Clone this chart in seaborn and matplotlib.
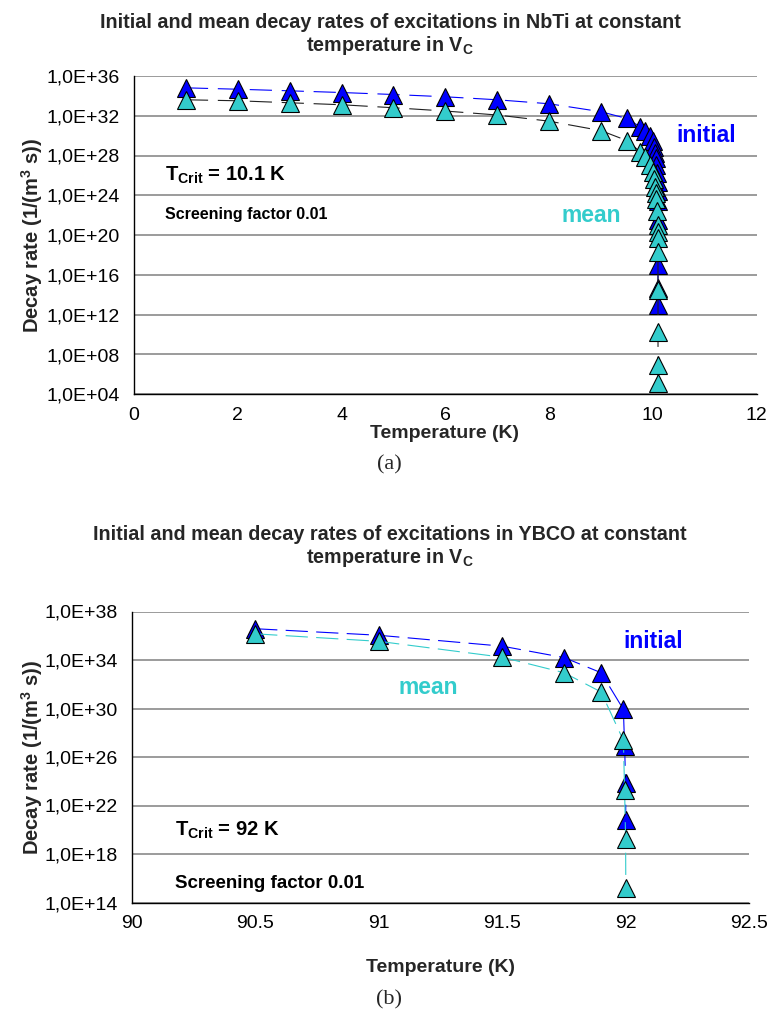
import numpy as np
import pandas as pd
import matplotlib
matplotlib.use("Agg")
import matplotlib.pyplot as plt
import seaborn as sns
from matplotlib.ticker import FixedLocator, FuncFormatter

# ---- NbTi (T_crit = 10.1 K): decay rates given as log10 of 1/(m^3 s) ----
nbti_temp = [1, 2, 3, 4, 5, 6, 7, 8, 9, 9.5, 9.75, 9.85, 9.95, 10.0,
             10.03, 10.05, 10.06, 10.07, 10.08, 10.09, 10.095, 10.098,
             10.099, 10.0995, 10.0999, 10.09999, 10.099999]
nbti_initial_log = [34.8, 34.66, 34.5, 34.33, 34.13, 33.9, 33.6, 33.2, 32.4,
                    31.72, 30.9, 30.5, 30.0, 29.5, 28.9, 28.3, 27.7, 27.0,
                    26.2, 25.3, 24.4, 23.4, 21.5, 17.0, 14.7, 13.0, np.nan]
nbti_mean_log = [33.6, 33.5, 33.3, 33.1, 32.8, 32.47, 32.07, 31.45, 30.5,
                 29.5, 28.4, 27.8, 27.0, 26.3, 25.6, 24.8, 24.2, 23.6,
                 22.4, 21.0, 20.3, 19.7, 18.3, 14.5, 10.3, 6.9, 5.1]

# ---- YBCO (T_crit = 92 K) ----
ybco_temp = [90.5, 91, 91.5, 91.75, 91.9, 91.99, 91.995, 91.999, 91.9999]
ybco_initial_log = [36.58, 36.04, 35.14, 34.2, 32.95, 29.93, 26.93, 23.84, 20.81]
ybco_mean_log = [36.16, 35.54, 34.23, 32.95, 31.36, 27.37, 23.28, 19.27, 15.2]

nbti_xticks = [0, 2, 4, 6, 8, 10, 12]
nbti_yexp = [4, 8, 12, 16, 20, 24, 28, 32, 36]
ybco_xticks = [90, 90.5, 91, 91.5, 92, 92.5]
ybco_yexp = [14, 18, 22, 26, 30, 34, 38]

BLUE = "#0000FF"
TEAL = "#33CCCC"

sns.set_theme(style="white")
plt.rcParams["font.family"] = ["Liberation Sans", "DejaVu Sans"]
plt.rcParams["mathtext.fontset"] = "custom"
plt.rcParams["mathtext.rm"] = "Liberation Sans"
plt.rcParams["mathtext.bf"] = "Liberation Sans:bold"
plt.rcParams["lines.scale_dashes"] = False

W, H = 781, 1019
fig = plt.figure(figsize=(W / 100, H / 100), dpi=100)


def fx(px):
    return px / W


def fy(py):
    return 1 - py / H


def axes_px(left, top, right, bottom):
    return fig.add_axes([fx(left), fy(bottom), (right - left) / W, (bottom - top) / H])


def series(ax, temp, logs, color, line_color, dash):
    df = pd.DataFrame({"T": temp, "rate": np.power(10.0, np.array(logs, dtype=float))})
    df = df.dropna()
    sns.lineplot(data=df, x="T", y="rate", ax=ax, estimator=None, sort=False,
                 color=line_color, linewidth=0.8, linestyle=(0, dash),
                 marker="^", markersize=12.5, markerfacecolor=color,
                 markeredgecolor="black", markeredgewidth=0.8)


def style_axes(ax, xticks, yexp, xlim):
    ax.set_yscale("log")
    ax.set_xlim(*xlim)
    ax.set_ylim(10.0 ** yexp[0], 10.0 ** yexp[-1])
    ax.xaxis.set_major_locator(FixedLocator(xticks))
    ax.xaxis.set_major_formatter(FuncFormatter(lambda v, p: f"{v:g}"))
    ax.yaxis.set_major_locator(FixedLocator([10.0 ** e for e in yexp]))
    ax.yaxis.set_major_formatter(
        FuncFormatter(lambda v, p: f"1,0E+{int(round(np.log10(v))):02d}"))
    ax.yaxis.set_minor_locator(FixedLocator([]))
    ax.tick_params(axis="both", which="major", direction="out", length=5,
                   width=1, color="black", labelsize=14, labelcolor="black", pad=4)
    ax.tick_params(axis="y", pad=5)
    ax.yaxis.grid(True, color="#808080", linewidth=1.1)
    ax.xaxis.grid(False)
    ax.set_axisbelow(True)
    for side in ("top", "right"):
        ax.spines[side].set_visible(False)
    for side in ("left", "bottom"):
        ax.spines[side].set_color("black")
        ax.spines[side].set_linewidth(1)
    ax.set_xlabel("")
    ax.set_ylabel("")
    ax.set_facecolor("white")


# ---------------- (a) NbTi ----------------
ax1 = axes_px(134, 75.9, 756.6, 394.3)
series(ax1, nbti_temp, nbti_initial_log, BLUE, BLUE, (16, 7))
series(ax1, nbti_temp, nbti_mean_log, TEAL, "#202020", (16, 7))
style_axes(ax1, nbti_xticks, nbti_yexp, (0, 12))

fig.text(fx(390), fy(35),
         "Initial and mean decay rates of excitations in NbTi at constant\n"
         r"temperature in V$_\mathbf{C}$",
         ha="center", va="center", fontsize=14.2, fontweight="bold",
         linespacing=1.12)
fig.text(fx(32), fy(235), r"Decay rate (1/(m$^\mathbf{3}$ s))", rotation=90,
         ha="center", va="center", fontsize=14.5, fontweight="bold")
fig.text(fx(445), fy(433), "Temperature (K)", ha="center", va="center",
         fontsize=14, fontweight="bold")
fig.text(fx(706), fy(135), "initial", ha="center", va="center",
         fontsize=16.5, fontweight="bold", color=BLUE)
fig.text(fx(591), fy(215), "mean", ha="center", va="center",
         fontsize=16.5, fontweight="bold", color=TEAL)
fig.text(fx(165), fy(175), r"T$_\mathbf{Crit}$ = 10.1 K", ha="left", va="center",
         fontsize=14.5, fontweight="bold", color="black")
fig.text(fx(165), fy(214), "Screening factor 0.01", ha="left", va="center",
         fontsize=11.5, fontweight="bold", color="black")
fig.text(fx(389), fy(465), "(a)", ha="center", va="center", fontsize=16,
         family=["Liberation Serif", "DejaVu Serif"])

# ---------------- (b) YBCO ----------------
ax2 = axes_px(131.6, 611.5, 749.4, 902.5)
series(ax2, ybco_temp, ybco_initial_log, BLUE, BLUE, (16, 6))
series(ax2, ybco_temp, ybco_mean_log, TEAL, TEAL, (16, 6))
style_axes(ax2, ybco_xticks, ybco_yexp, (90, 92.5))

fig.text(fx(390), fy(547),
         "Initial and mean decay rates of excitations in YBCO at constant\n"
         r"temperature in V$_\mathbf{C}$",
         ha="center", va="center", fontsize=14.2, fontweight="bold",
         linespacing=1.12)
fig.text(fx(32), fy(757), r"Decay rate (1/(m$^\mathbf{3}$ s))", rotation=90,
         ha="center", va="center", fontsize=14.5, fontweight="bold")
fig.text(fx(440), fy(968), "Temperature (K)", ha="center", va="center",
         fontsize=14, fontweight="bold")
fig.text(fx(653), fy(641), "initial", ha="center", va="center",
         fontsize=16.5, fontweight="bold", color=BLUE)
fig.text(fx(428), fy(688), "mean", ha="center", va="center",
         fontsize=16.5, fontweight="bold", color=TEAL)
fig.text(fx(175), fy(830), r"T$_\mathbf{Crit}$ = 92 K", ha="left", va="center",
         fontsize=14.5, fontweight="bold", color="black")
fig.text(fx(175), fy(884), "Screening factor 0.01", ha="left", va="center",
         fontsize=13.5, fontweight="bold", color="black")
fig.text(fx(389), fy(1000), "(b)", ha="center", va="center", fontsize=16,
         family=["Liberation Serif", "DejaVu Serif"])

fig.savefig("out.png", dpi=100, facecolor="white")
